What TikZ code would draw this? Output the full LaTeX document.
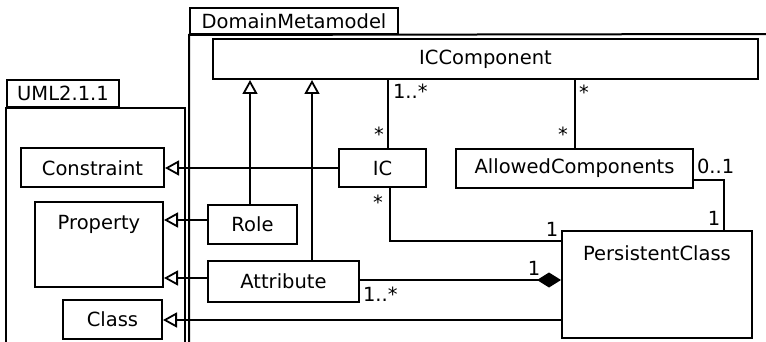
\documentclass[tikz,border=0pt]{standalone}
\usepackage{fontspec}
\setmainfont{DejaVu Sans}
\usetikzlibrary{arrows.meta}

\begin{document}
\begin{tikzpicture}[x=1pt, y=-1pt,
  font=\fontsize{19.5}{23}\selectfont,
  line width=2pt,
  cls/.style={draw, rectangle, inner sep=0pt},
  pkgtab/.style={draw, rectangle, inner sep=0pt},
  toplabel/.style={label={[anchor=center, yshift=-23pt]north:#1}},
  gen/.style={-{Triangle[open, length=14pt, width=15pt, line width=1.8pt]}},
  comp/.style={-{Diamond[length=24pt, width=15pt]}},
  mult/.style={inner sep=0pt},
]
\useasboundingbox (0,0) rectangle (766,342);

% package UML2.1.1
\node[pkgtab, minimum width=112, minimum height=27] (umltab) at (63,93.5) {UML2.1.1};
\draw ([yshift=-240pt]umltab.south west) -- (umltab.south west)
      -- ([xshift=179pt]umltab.south west) -- ++(0,240);

% package DomainMetamodel
\node[pkgtab, minimum width=208, minimum height=26] (dmtab) at (294,21) {DomainMetamodel};
\draw ([yshift=-312pt]dmtab.south west) -- (dmtab.south west) -- (767,34);

% classes
\node[cls, minimum width=545, minimum height=40] (icc) at (485.5,59) {ICComponent};
\node[cls, minimum width=143, minimum height=39] (con) at (92.5,168) {Constraint};
\node[cls, minimum width=87, minimum height=38] (ic) at (382.5,168) {IC};
\node[cls, minimum width=237, minimum height=39] (ac) at (574.5,168.5) {AllowedComponents};
\node[cls, minimum width=128, minimum height=85, toplabel=Property] (prop) at (99,244.5) {};
\node[cls, minimum width=89, minimum height=39] (role) at (252.5,224.5) {Role};
\node[cls, minimum width=151, minimum height=41] (attr) at (283.5,281.5) {Attribute};
\node[cls, minimum width=99, minimum height=39] (cls) at (112.5,319.5) {Class};
\node[cls, minimum width=190, minimum height=107, toplabel=PersistentClass] (pc) at (657,284.5) {};

% connector end points
\coordinate (rolew) at ([yshift=4.5pt]role.west);
\coordinate (attrw) at ([yshift=3.5pt]attr.west);
\coordinate (roleup) at ([xshift=-2.5pt]role.north);
\coordinate (attrup) at ([xshift=28.5pt]attr.north);
\coordinate (icup) at ([xshift=5.5pt]ic.north);
\coordinate (icdown) at ([xshift=7.5pt]ic.south);
\coordinate (pcic) at ([yshift=43.5pt]pc.west);
\coordinate (attre) at ([yshift=1.5pt]attr.east);
\coordinate (ace) at ([yshift=-11.5pt]ac.east);
\coordinate (pctop) at ([xshift=67pt]pc.north);
\coordinate (pccls) at ([yshift=-35.5pt]pc.west);

% generalizations
\draw[gen] (ic.west) -- (ic.west -| con.east);
\draw[gen] (rolew) -- (rolew -| prop.east);
\draw[gen] (attrw) -- (attrw -| prop.east);
\draw[gen] (roleup) -- (roleup |- icc.south);
\draw[gen] (attrup) -- (attrup |- icc.south);
\draw[gen] (pccls) -- (pccls -| cls.east);

% associations
\draw (icup) -- (icup |- icc.south);
\draw (ac.north) -- (ac.north |- icc.south);
\draw (icdown) |- (pcic);
\draw (ace) -| (pctop);
\draw[comp] (attre) -- (attre -| pc.west);

% multiplicities
\node[mult, anchor=west] at (392,91) {1..*};
\node[mult] at (379,134) {*};
\node[mult] at (584,92) {*};
\node[mult] at (563,134) {*};
\node[mult] at (378,202) {*};
\node[mult] at (552,229) {1};
\node[mult, anchor=west] at (696,166) {0..1};
\node[mult] at (714,218) {1};
\node[mult] at (534,268) {1};
\node[mult, anchor=west] at (362,294) {1..*};
\end{tikzpicture}
\end{document}
